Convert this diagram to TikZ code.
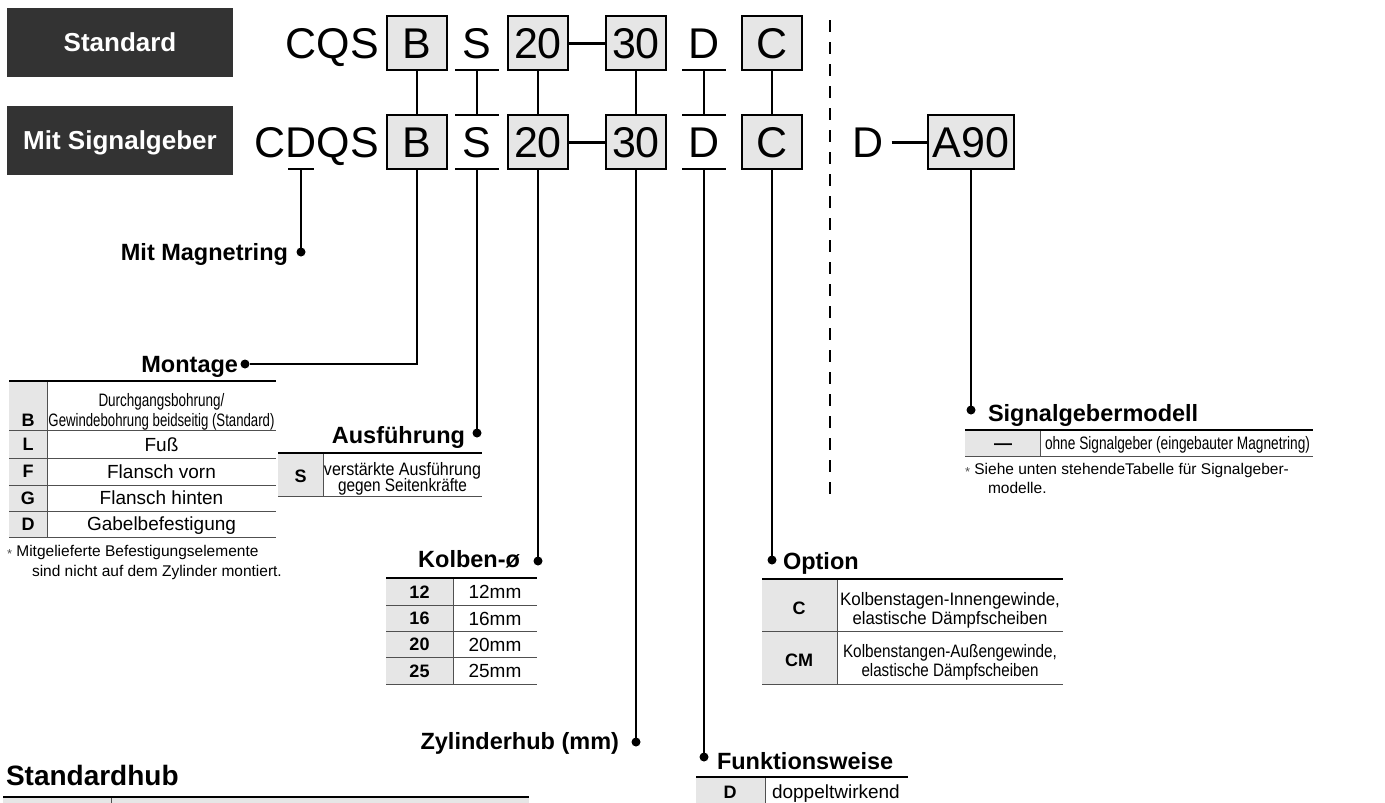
\documentclass[tikz,border=0pt]{standalone}
\usepackage{fontspec}
\setmainfont{Liberation Sans}
\usepackage{graphicx}
\definecolor{dark}{RGB}{51,51,51}
\definecolor{lgray}{RGB}{230,230,230}
\definecolor{rulec}{RGB}{80,80,80}
\newcommand\fs[1]{\fontsize{#1}{#1}\selectfont}
\newcommand\cnd[2]{\resizebox{#1pt}{\height}{#2}}
\newcommand\astk{{\fs{13}\color{rulec}\raisebox{-2pt}{*}}}
\tikzset{
 hdr/.style={fill=dark, minimum width=226pt, minimum height=69pt, text=white, font=\fs{26}\bfseries, text height=18.6pt, text depth=0pt},
 code/.style={font=\fs{43}, text height=30.8pt, text depth=0pt},
 codebox/.style={code, draw=black, line width=2pt, fill=lgray, minimum width=60pt, minimum height=54pt},
 codeslot/.style={code, minimum width=44pt, minimum height=54pt},
 conn/.style={line width=2pt},
 bar/.style={line width=3pt},
 dashline/.style={line width=2pt, dash pattern=on 12pt off 10pt},
 dot/.style={circle, fill=black, minimum size=9pt},
 lbl/.style={font=\fs{23.5}\bfseries, text height=16.8pt, text depth=0pt},
 cell/.style={font=\fs{19}, text height=13.6pt, text depth=0pt},
 cellb/.style={font=\fs{18}\bfseries, text height=12.9pt, text depth=0pt},
 small/.style={font=\fs{18}, text height=12.9pt, text depth=0pt},
 note/.style={font=\fs{15.5}, text height=11.1pt, text depth=0pt},
 toprule/.style={line width=2.5pt, black},
 midrule/.style={line width=1pt, rulec},
}
\begin{document}
\begin{tikzpicture}[x=1pt,y=-1pt, every node/.style={inner sep=0pt, outer sep=0pt}]
\useasboundingbox (0,0) rectangle (1385,803);

% header boxes
\node[hdr] (hstd) at (120,42.5) {Standard};
\node[hdr] (hsig) at (120,140.5) {Mit Signalgeber};

% row 1
\node[code, anchor=east] (cqs) at (379,43) {CQS};
\node[codebox] (b1) at (417,43) {B};
\node[codeslot] (s1) at (477,43) {S};
\node[codebox] (n201) at (538,43) {20};
\node[codebox] (n301) at (636,43) {30};
\node[codeslot] (d1) at (704,43) {D};
\node[codebox] (c1) at (772,43) {C};

% row 2
\node[code, anchor=east] (cdqs) at (379,142) {CDQS};
\node[minimum width=26pt, minimum height=54pt] (dq) at (301,142) {};
\node[codebox] (b2) at (417,142) {B};
\node[codeslot] (s2) at (477,142) {S};
\node[codebox] (n202) at (538,142) {20};
\node[codebox] (n302) at (636,142) {30};
\node[codeslot] (d2) at (704,142) {D};
\node[codebox] (c2) at (772,142) {C};
\node[code] (dsw) at (868,142) {D};
\node[codebox, minimum width=86pt] (a90) at (971,142) {A90};

% underlines
\draw[conn] (s1.south west) -- (s1.south east);
\draw[conn] (d1.south west) -- (d1.south east);
\draw[conn] (s2.north west) -- (s2.north east);
\draw[conn] (s2.south west) -- (s2.south east);
\draw[conn] (d2.north west) -- (d2.north east);
\draw[conn] (d2.south west) -- (d2.south east);
\draw[conn] (dq.south west) -- (dq.south east);

% bars
\draw[bar] (n201) -- (n301);
\draw[bar] (n202) -- (n302);
\draw[bar, shorten <=8pt] (dsw) -- (a90);

% verticals between rows
\draw[conn] (b1) -- (b2);
\draw[conn] (s1.south) -- (s2.north);
\draw[conn] (n201) -- (n202);
\draw[conn] (n301) -- (n302);
\draw[conn] (d1.south) -- (d2.north);
\draw[conn] (c1) -- (c2);

% dashed separator
\coordinate (dtop) at (830,20);
\coordinate (dbot) at (830,500);
\draw[dashline] (dtop) -- (dbot);

% dots and labels
\node[dot] (magdot) at (301,252) {};
\node[lbl, anchor=east] (maglbl) at (288,252) {Mit Magnetring};
\draw[conn] (dq.south) -- (magdot);

\node[dot] (montdot) at (245,364) {};
\node[lbl, anchor=east] (montlbl) at (238,364) {Montage};
\draw[conn] (b2.south) |- (montdot);

\node[dot] (ausdot) at (477,433) {};
\node[lbl, anchor=east] (auslbl) at (465,435) {Ausführung};
\draw[conn] (s2.south) -- (ausdot);

\node[dot] (koldot) at (538,561) {};
\node[lbl, anchor=east] (kollbl) at (520,559) {Kolben-ø};
\draw[conn] (n202.south) -- (koldot);

\node[dot] (zyldot) at (636,742) {};
\node[lbl, anchor=east] (zyllbl) at (619,741) {Zylinderhub (mm)};
\draw[conn] (n302.south) -- (zyldot);

\node[dot] (fundot) at (704,757) {};
\node[lbl, anchor=west] (funlbl) at (717,761) {Funktionsweise};
\draw[conn] (d2.south) -- (fundot);

\node[dot] (optdot) at (772,560) {};
\node[lbl, anchor=west] (optlbl) at (783,561) {Option};
\draw[conn] (c2.south) -- (optdot);

\node[dot] (sigdot) at (971,410) {};
\node[lbl, anchor=west] (siglbl) at (988,413) {Signalgebermodell};
\draw[conn] (a90.south) -- (sigdot);

% Montage table
\fill[lgray] (9,381) rectangle (47,537);
\foreach \yy in {430,458,485,511,537} \draw[midrule] (9,\yy) -- (276,\yy);
\draw[midrule] (47,381) -- (47,537);
\draw[toprule] (9,381) -- (276,381);
\node[cellb] (mB) at (28,420) {B};
\node[cellb] (mL) at (28,444.5) {L};
\node[cellb] (mF) at (28,471.5) {F};
\node[cellb] (mG) at (28,498) {G};
\node[cellb] (mD) at (28,524) {D};
\node[small] (mB1) at (161.5,400) {\cnd{126}{Durchgangsbohrung/}};
\node[small] (mB2) at (161.5,420) {\cnd{226}{Gewindebohrung beidseitig (Standard)}};
\node[cell] (mL1) at (161.5,444.5) {Fuß};
\node[cell] (mF1) at (161.5,471.5) {Flansch vorn};
\node[cell] (mG1) at (161.5,498) {Flansch hinten};
\node[cell] (mD1) at (161.5,524) {Gabelbefestigung};
\node[note, anchor=west] (mn1) at (7,551) {\astk\ Mitgelieferte Befestigungselemente};
\node[note, anchor=west] (mn2) at (32,571) {sind nicht auf dem Zylinder montiert.};

% Ausfuehrung table
\fill[lgray] (278,453) rectangle (323,496);
\draw[midrule] (278,496) -- (482,496);
\draw[midrule] (323,453) -- (323,496);
\draw[toprule] (278,453) -- (482,453);
\node[cellb] (aS) at (300.5,476) {S};
\node[small] (aS1) at (402.5,469) {\cnd{157}{verstärkte Ausführung}};
\node[small] (aS2) at (402.5,485) {\cnd{129}{gegen Seitenkräfte}};

% Kolben table
\fill[lgray] (386,578) rectangle (453,684);
\foreach \yy in {605,631,657,684} \draw[midrule] (386,\yy) -- (537,\yy);
\draw[midrule] (453,578) -- (453,684);
\draw[toprule] (386,578) -- (537,578);
\node[cellb] (k1) at (419.5,592) {12};
\node[cellb] (k2) at (419.5,618.5) {16};
\node[cellb] (k3) at (419.5,644.5) {20};
\node[cellb] (k4) at (419.5,671) {25};
\node[cell] (k1t) at (495,592) {12mm};
\node[cell] (k2t) at (495,618.5) {16mm};
\node[cell] (k3t) at (495,644.5) {20mm};
\node[cell] (k4t) at (495,671) {25mm};

% Option table
\fill[lgray] (762,579) rectangle (837,684);
\draw[midrule] (762,631) -- (1063,631);
\draw[midrule] (762,684) -- (1063,684);
\draw[midrule] (837,579) -- (837,684);
\draw[toprule] (762,579) -- (1063,579);
\node[cellb] (oC) at (799,608) {C};
\node[cellb] (oCM) at (799,660) {CM};
\node[small] (oC1) at (950,599) {\cnd{220}{Kolbenstagen-Innengewinde,}};
\node[small] (oC2) at (950,618) {\cnd{195}{elastische Dämpfscheiben}};
\node[small] (oM1) at (950,651) {\cnd{214}{Kolbenstangen-Außengewinde,}};
\node[small] (oM2) at (950,670) {\cnd{177}{elastische Dämpfscheiben}};

% Signalgeber table
\fill[lgray] (965,430) rectangle (1040,456);
\draw[midrule] (965,456) -- (1313,456);
\draw[midrule] (1040,430) -- (1040,456);
\draw[toprule] (965,430) -- (1313,430);
\node[cellb] (sg0) at (1003,443) {—};
\node[small, anchor=west] (sg1) at (1045,443) {\cnd{265}{ohne Signalgeber (eingebauter Magnetring)}};
\node[note, anchor=west] (sn1) at (965,469) {\astk\ Siehe unten stehendeTabelle für Signalgeber-};
\node[note, anchor=west] (sn2) at (988,488) {modelle.};

% Funktionsweise table
\fill[lgray] (696,777) rectangle (765,803);
\draw[midrule] (765,777) -- (765,803);
\draw[toprule] (696,777) -- (908,777);
\node[cellb] (fD) at (730,792) {D};
\node[cell, anchor=west] (fD1) at (772,792) {doppeltwirkend};

% Standardhub
\node[font=\fs{28}\bfseries, text height=20pt, text depth=0pt, anchor=west] (sthub) at (6,775) {Standardhub};
\fill[lgray] (3,797) rectangle (529,803);
\draw[midrule] (111,797) -- (111,803);
\draw[toprule] (3,797) -- (529,797);
\end{tikzpicture}
\end{document}
